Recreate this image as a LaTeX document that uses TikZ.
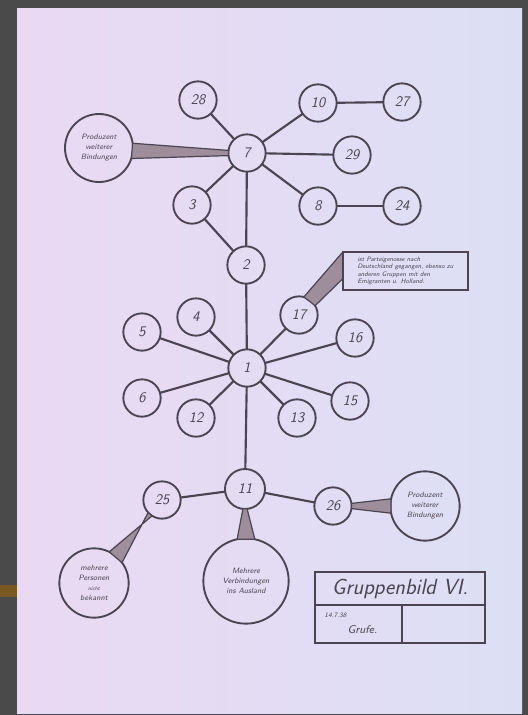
\documentclass[tikz,border=0pt]{standalone}
\usetikzlibrary{calc}
\definecolor{inkc}{HTML}{4B4452}
\definecolor{wedgec}{HTML}{9E8E9C}
\definecolor{bgdark}{HTML}{4A4A4A}
\definecolor{paperL}{HTML}{EAD9F3}
\definecolor{paperM}{HTML}{E6E3F8}
\definecolor{paperR}{HTML}{DCDFF4}
\definecolor{speck}{HTML}{7A5A22}
\begin{document}
\begin{tikzpicture}[x=0.75pt,y=-0.75pt,
  hand/.style={font=\sffamily\slshape},
  num/.style={circle, draw=inkc, line width=1.4pt, minimum size=28pt, inner sep=0pt, outer sep=0pt,
    font=\sffamily\slshape\fontsize{11}{11}\selectfont, text=inkc},
  big/.style={circle, draw=inkc, line width=1.4pt, inner sep=0pt, outer sep=0pt, align=center,
    font=\sffamily\slshape\fontsize{5.8}{7.5}\selectfont, text=inkc},
  wedge/.style={fill=wedgec, draw=inkc, line width=0.9pt, line join=round},
  edge/.style={draw=inkc, line width=1.6pt},
  cell/.style={draw=inkc, line width=1.5pt, inner sep=0pt, outer sep=0pt, anchor=north west}
]
\useasboundingbox (0,0) rectangle (528,715);
\fill[bgdark] (0,0) rectangle (528,715);
\shade[left color=paperL, middle color=paperM, right color=paperR] (17,8) rectangle (522,713);
\fill[speck] (0,585) rectangle (17,597);

% nodes of the upper cluster
\node[num] (n28) at (198,100) {28};
\node[num] (n10) at (318,103) {10};
\node[num] (n27) at (402,102) {27};
\node[num] (n7)  at (247,153) {7};
\node[num] (n29) at (352,155) {29};
\node[num] (n3)  at (192,205) {3};
\node[num] (n8)  at (318,206) {8};
\node[num] (n24) at (402,206) {24};
\node[num] (n2)  at (246,265) {2};
% middle cluster
\node[num] (n4)  at (196,317) {4};
\node[num] (n17) at (299,315) {17};
\node[num] (n5)  at (142,332) {5};
\node[num] (n16) at (355,338) {16};
\node[num] (n1)  at (247,368) {1};
\node[num] (n6)  at (142,398) {6};
\node[num] (n12) at (196,418) {12};
\node[num] (n13) at (297,418) {13};
\node[num] (n15) at (350,401) {15};
% lower cluster
\node[num, minimum size=30pt] (n11) at (245,489) {11};
\node[num] (n25) at (162,500) {25};
\node[num] (n26) at (333,506) {26};

% annotation circles
\node[big, minimum size=51pt] (a1) at (99,148) {Produzent\\weiterer\\Bindungen};
\node[big, minimum size=52pt] (a2) at (425,506) {Produzent\\weiterer\\Bindungen};
\node[big, minimum size=52pt] (a3) at (94,583) {mehrere\\Personen\\{\fontsize{4}{4.5}\selectfont nicht}\\bekannt};
\node[big, minimum size=64pt] (a4) at (246,581) {Mehrere\\Verbindungen\\ins Ausland};

% callout box
\node[draw=inkc, line width=1.4pt, minimum width=94pt, minimum height=28.5pt, inner sep=1pt, outer sep=0pt,
  align=left, text=inkc, font=\sffamily\slshape\fontsize{4.8}{5.6}\selectfont] (c1) at (405.5,271)
  {ist Parteigenosse nach\\Deutschland gegangen, ebenso zu\\anderen Gruppen mit den\\Emigranten u. Holland.};

% edges
\draw[edge] (n7) -- (n28);
\draw[edge] (n7) -- (n10);
\draw[edge] (n7) -- (n29);
\draw[edge] (n7) -- (n8);
\draw[edge] (n7) -- (n3);
\draw[edge] (n7) -- (n2);
\draw[edge] (n10) -- (n27);
\draw[edge] (n8) -- (n24);
\draw[edge] (n3) -- (n2);
\draw[edge] (n2) -- (n1);
\draw[edge] (n1) -- (n4);
\draw[edge] (n1) -- (n5);
\draw[edge] (n1) -- (n6);
\draw[edge] (n1) -- (n12);
\draw[edge] (n1) -- (n13);
\draw[edge] (n1) -- (n15);
\draw[edge] (n1) -- (n16);
\draw[edge] (n1) -- (n17);
\draw[edge] (n1) -- (n11);
\draw[edge] (n11) -- (n25);
\draw[edge] (n11) -- (n26);

% wedges
\filldraw[wedge] (a1.8) -- (n7.172) -- (n7.188) -- (a1.-18) -- cycle;
\filldraw[wedge] (a2.168) -- (n26.8) -- (n26.-8) -- (a2.192) -- cycle;
\filldraw[wedge] (a3.36) -- (n25.222) -- (n25.238) -- (a3.64) -- cycle;
\filldraw[wedge] (a4.78) -- (n11.276) -- (n11.264) -- (a4.102) -- cycle;
\filldraw[wedge] (c1.north west) -- (n17.75) -- (n17.30) -- ($(c1.north west)!0.7!(c1.south west)$) -- cycle;

% title block
\node[cell, minimum width=127.5pt, minimum height=24.75pt] (t1) at (315,572) {};
\node[hand, text=inkc, font=\sffamily\slshape\fontsize{16.5}{16.5}\selectfont] (tt) at (t1.center) {Gruppenbild VI.};
\node[cell, minimum width=65.25pt, minimum height=28.5pt] (t2) at (t1.south west) {};
\node[cell, minimum width=62.25pt, minimum height=28.5pt] (t3) at (t2.north east) {};
\node[text=inkc, font=\sffamily\slshape\fontsize{5}{5}\selectfont, anchor=north west] (d1) at ($(t2.north west)+(5,3)$) {14.7.38};
\node[text=inkc, font=\sffamily\slshape\fontsize{8.5}{9}\selectfont] (s1) at ($(t2.center)+(4,6)$) {Grufe.};
\end{tikzpicture}
\end{document}
